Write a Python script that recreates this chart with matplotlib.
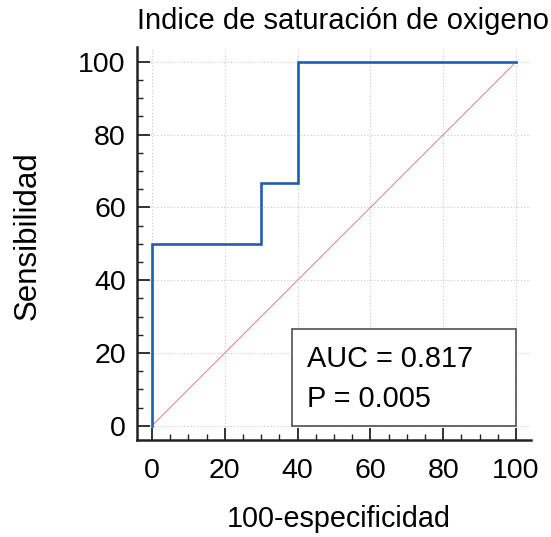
import matplotlib
matplotlib.use("Agg")
import matplotlib.pyplot as plt
from matplotlib.patches import Rectangle
from matplotlib.ticker import MultipleLocator

plt.rcParams['font.family'] = ['Liberation Sans', 'DejaVu Sans']

fpr = [0, 0, 30, 30, 40, 40, 100]
tpr = [0, 50, 50, 66.7, 66.7, 100, 100]
diag_x = [0, 100]
diag_y = [0, 100]
ticks = [0, 20, 40, 60, 80, 100]
auc_text = "AUC = 0.817"
p_text = "P = 0.005"

fig = plt.figure(figsize=(5.51, 5.37), dpi=100)
ax = fig.add_axes([0.2486, 0.1806, 0.7151, 0.7319])

ax.plot(diag_x, diag_y, color='#e06a6a', lw=0.6, zorder=2)
ax.plot(fpr, tpr, color='#1f5fad', lw=1.9, zorder=3, solid_joinstyle='miter')

ax.add_patch(Rectangle((38.5, 0), 61.5, 26.5, facecolor='white', edgecolor='#505050', lw=1.2, zorder=4))
ax.text(42.5, 18.5, auc_text, fontsize=20.8, va='center', ha='left', zorder=5)
ax.text(42.5, 7.3, p_text, fontsize=20.8, va='center', ha='left', zorder=5)

ax.set_xlim(-4.1, 104.1)
ax.set_ylim(-3.9, 104.1)
ax.set_xticks(ticks)
ax.set_yticks(ticks)
ax.xaxis.set_minor_locator(MultipleLocator(5))
ax.yaxis.set_minor_locator(MultipleLocator(5))
ax.tick_params(which='major', direction='in', length=9, width=1.3, labelsize=20.5, color='#222222')
ax.tick_params(axis='x', which='major', pad=13)
ax.tick_params(axis='y', which='major', pad=8)
ax.tick_params(which='minor', direction='in', length=4.5, width=1.0, color='#222222')
for s in ['top', 'right']:
    ax.spines[s].set_visible(False)
for s in ['left', 'bottom']:
    ax.spines[s].set_linewidth(1.8)
    ax.spines[s].set_color('#222222')
ax.grid(True, which='major', linestyle=(0, (1, 2)), color='#c8c8c8', lw=0.8)
ax.set_axisbelow(True)

ax.set_title("Indice de saturación de oxigeno", fontsize=21, pad=13, x=0.523)
ax.set_xlabel("100-especificidad", fontsize=20.7)
ax.xaxis.set_label_coords(0.512, -0.165)
ax.set_ylabel("Sensibilidad", fontsize=22.5)
ax.yaxis.set_label_coords(-0.24, 0.52)

fig.savefig("out.png", dpi=100)
